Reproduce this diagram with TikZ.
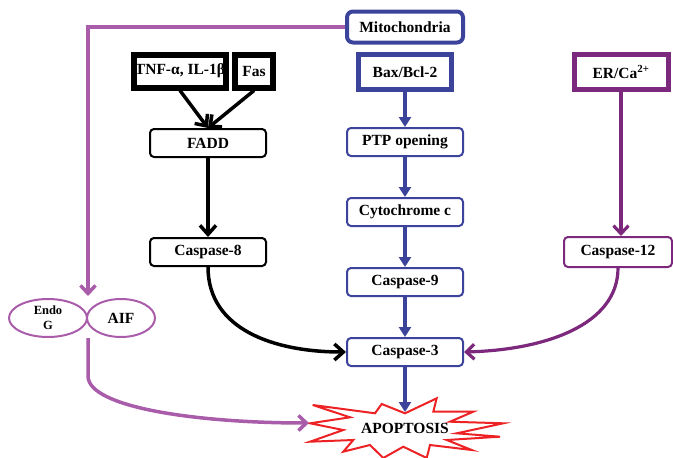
\documentclass[tikz,border=0pt]{standalone}
\usepackage{fontspec}
\setmainfont{Liberation Serif}
\usepackage{xcolor}
\usetikzlibrary{arrows.meta, shapes.geometric, positioning}

\definecolor{mitoblue}{RGB}{59,67,155}
\definecolor{erpurple}{RGB}{123,40,125}
\definecolor{aiflilac}{RGB}{168,92,170}
\definecolor{burstred}{RGB}{237,34,36}

\begin{document}
\begin{tikzpicture}[x=1pt, y=-1pt, node distance=70pt, on grid,
    font=\fontsize{15.5}{18}\selectfont\bfseries,
    casp/.style={draw, rounded corners=4pt, line width=2pt, minimum width=116pt, minimum height=28pt, inner sep=2pt, fill=white},
    source/.style={draw, line width=5pt, minimum height=35pt, inner sep=2pt, fill=white},
    ligand/.style={draw, line width=6pt, minimum height=33pt, inner sep=1pt},
    blob/.style={ellipse, draw=aiflilac, line width=2pt, minimum height=38pt, inner sep=0pt},
    blk/.style={line width=3.5pt, -{Straight Barb[length=9pt,width=16pt]}},
    blu/.style={mitoblue, line width=3.5pt, -{Triangle[length=10pt,width=12pt]}},
    pur/.style={erpurple, line width=3.2pt, -{Straight Barb[length=8pt,width=15pt]}},
    lil/.style={aiflilac, line width=3.5pt, -{Straight Barb[length=8pt,width=15pt]}}]
    \useasboundingbox (0,0) rectangle (673,458);

    % starburst
    \draw[burstred, line width=2pt, fill=white] (310,423.3) -- (350,417.3) -- (312.7,405) -- (375,413.3)
        -- (381.7,404) -- (405,413.3) -- (436.7,398.3) -- (433.3,411.7) -- (473.3,411.7)
        -- (450,421.7) -- (503.3,423.3) -- (456.7,433.3) -- (500,436.7) -- (446.7,440)
        -- (471.7,450) -- (430,445) -- (426.7,458) -- (403.3,446.7) -- (383.3,458)
        -- (370,445) -- (343.3,451.7) -- (353.3,440) -- (310,441.7) -- (343.3,430) -- cycle;
    \node (apop) at (405,428) {APOPTOSIS};
    \coordinate (apotop) at (405,412);
    \coordinate (apoleft) at (309,423);

    % mitochondrial pathway
    \node[source, draw=mitoblue, line width=4pt, rounded corners=6pt, minimum width=116pt, minimum height=31pt] (mito) at (405,27) {Mitochondria};
    \node[source, draw=mitoblue, minimum width=93pt] (bax) at (405,72) {Bax/Bcl-2};
    \node[casp, draw=mitoblue, below=of bax] (ptp) {PTP opening};
    \node[casp, draw=mitoblue, below=of ptp] (cyt) {Cytochrome c};
    \node[casp, draw=mitoblue, below=of cyt] (c9) {Caspase-9};
    \node[casp, draw=mitoblue, below=of c9] (c3) {Caspase-3};

    % death receptor pathway
    \node[ligand, minimum width=91pt] (tnf) at (180,71) {TNF-α, IL-1β};
    \node[ligand, minimum width=38pt] (fas) at (254,71) {Fas};
    \node[casp] (fadd) at (208,143) {FADD};
    \node[casp, below=109pt of fadd] (c8) {Caspase-8};

    % ER stress pathway
    \node[source, draw=erpurple, minimum width=94pt] (er) at (621,72) {ER/Ca\textsuperscript{2+}};
    \node[casp, draw=erpurple, minimum width=108pt, minimum height=30pt] (c12) at (618,252) {Caspase-12};

    % caspase-independent
    \node[blob, minimum width=78pt, align=center, font=\fontsize{12.5}{15}\selectfont\bfseries] (endo) at (48,318) {Endo\\G};
    \node[blob, minimum width=68pt, right=73pt of endo] (aif) {AIF};
    \coordinate (endoin) at (88,296);
    \coordinate (aifout) at (88,338);

    \path[blk]
    (tnf.south) edge (fadd.north)
    (fas.south) edge (fadd.north)
    (fadd) edge (c8);
    \draw[blk] (c8.south) .. controls (208,330) and (275,352) .. (c3.west);

    \path[blu]
    (bax) edge (ptp)
    (ptp) edge (cyt)
    (cyt) edge (c9)
    (c9) edge (c3)
    (c3) edge (apotop);

    \draw[pur] (er.south) -- (er.south |- c12.north);
    \draw[pur] (c12.south) .. controls (618,325) and (545,350) .. (c3.east);

    \draw[lil] (mito.west) -| (endoin);
    \draw[lil] (aifout) -- (88,376) .. controls (88,408) and (200,423) .. (apoleft);
\end{tikzpicture}
\end{document}
